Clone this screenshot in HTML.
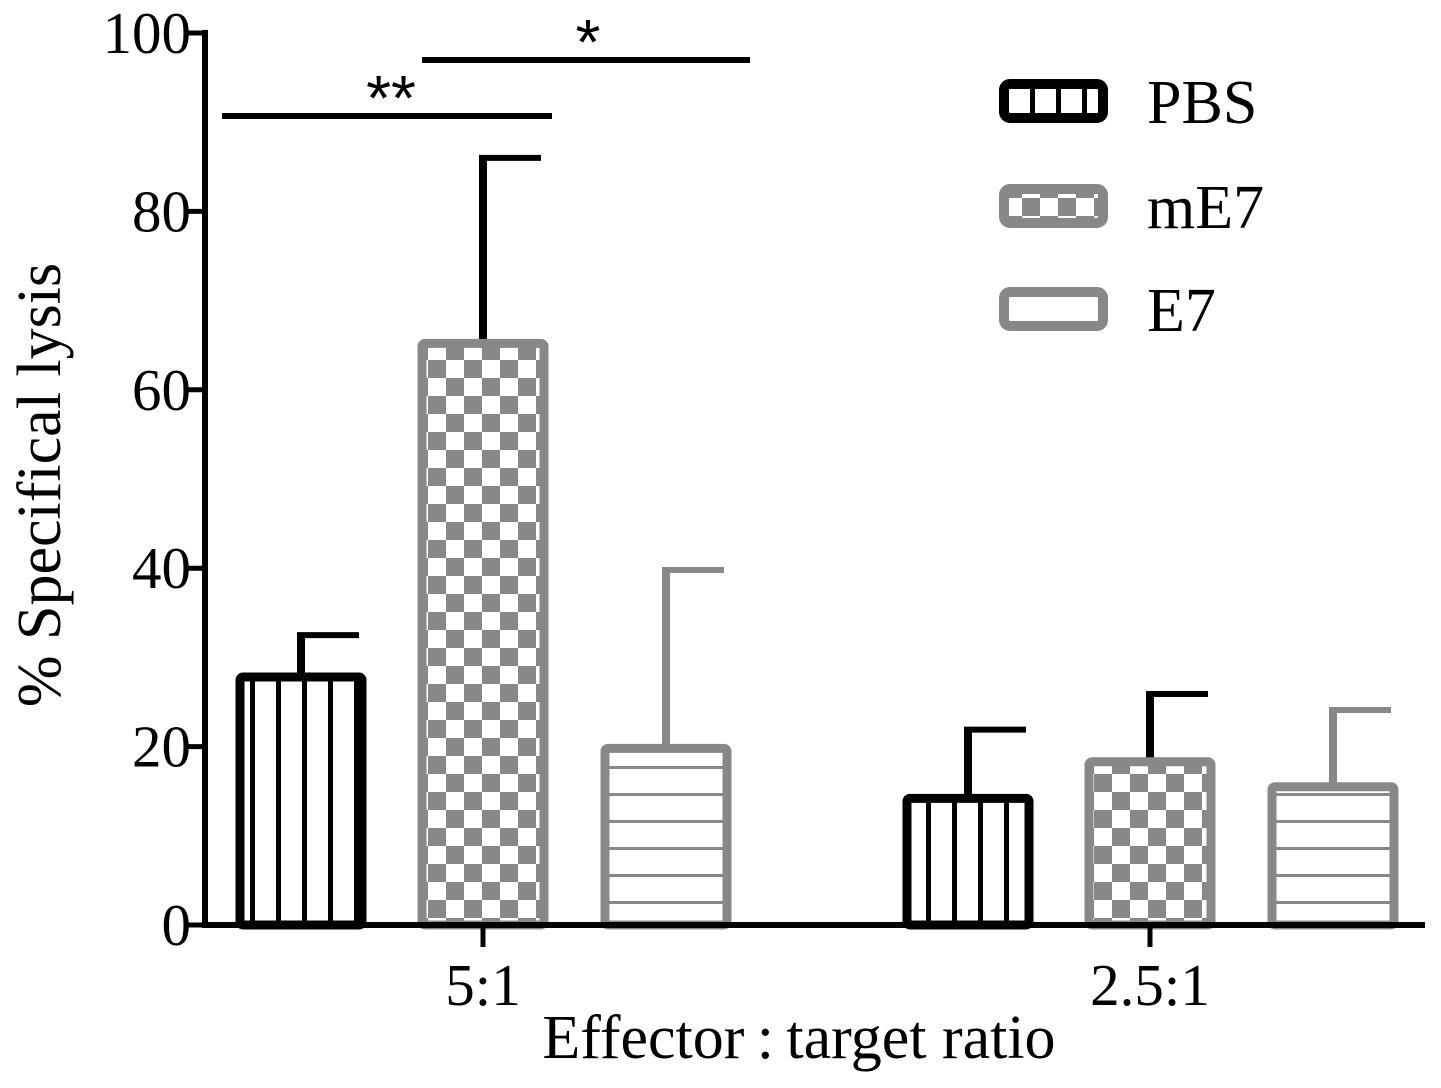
<!DOCTYPE html>
<html><head><meta charset="utf-8"><style>
html,body{margin:0;padding:0;background:#fff}
svg{display:block;font-family:"Liberation Serif",serif}
</style></head><body>
<svg id="chart" width="1441" height="1088" viewBox="0 0 1441 1088">
<defs>
<pattern id="pStripe" width="26" height="20" patternUnits="userSpaceOnUse" x="250"><rect width="26" height="20" fill="#fff"/><rect x="0" width="5" height="20" fill="#000"/></pattern>
<pattern id="pCheck" width="36" height="36" patternUnits="userSpaceOnUse" x="428" y="0"><rect width="36" height="36" fill="#fff"/><rect width="18" height="18" fill="#888"/><rect x="18" y="18" width="18" height="18" fill="#888"/></pattern>
<pattern id="pHoriz" width="20" height="27" patternUnits="userSpaceOnUse" y="10"><rect width="20" height="27" fill="#fff"/><rect y="0" width="20" height="3" fill="#888"/></pattern>
</defs>
<g id="plot"></g>
</svg>
<script>
const groups = ["5:1", "2.5:1"];
const seriesNames = ["PBS", "mE7", "E7"];
const pbsValues = [27.8, 14.2];
const mE7Values = [65.2, 18.3];
const e7Values = [19.8, 15.5];
const pbsErr = [32.5, 21.9];
const mE7Err = [86.0, 25.9];
const e7Err = [39.8, 24.1];
const yTicks = [0, 20, 40, 60, 80, 100];

const NS = "http://www.w3.org/2000/svg";
const g = document.getElementById("plot");
const y0 = 925, y100 = 33, xL = 205, xR = 1425;
const yScale = v => y0 - (v / 100) * (y0 - y100);
const groupCenter = [483, 1150];
const barOffset = [-182, 0, 183];
const barW = 122;
const strokes = ["#000", "#888", "#888"];
const errStrokes = ["#000", "#000", "#888"];
const fills = ["url(#pStripe)", "url(#pCheck)", "url(#pHoriz)"];
const vals = [pbsValues, mE7Values, e7Values];
const errs = [pbsErr, mE7Err, e7Err];

function el(tag, attrs, text) {
  const e = document.createElementNS(NS, tag);
  for (const k in attrs) e.setAttribute(k, attrs[k]);
  if (text !== undefined) e.textContent = text;
  g.appendChild(e);
  return e;
}

for (let s = 0; s < 3; s++) {
  for (let gi = 0; gi < groups.length; gi++) {
    const cx = groupCenter[gi] + barOffset[s];
    const top = yScale(vals[s][gi]);
    const et = yScale(errs[s][gi]);
    const eb = el("line", {x1: cx, x2: cx, y1: top, y2: et, stroke: errStrokes[s], "stroke-width": 8});
    
    
    const ec = el("line", {x1: cx - 4, x2: cx + 58, y1: et, y2: et, stroke: errStrokes[s], "stroke-width": 6});
    
    
    const r = el("rect", {x: cx - barW / 2, y: top, width: barW, height: y0 - top, fill: fills[s], stroke: strokes[s], "stroke-width": 9, rx: 3});
    
    
  }
}

const ya = el("line", {x1: xL, x2: xL, y1: y100 - 3, y2: y0 + 3, stroke: "#000", "stroke-width": 6});


const xa = el("line", {x1: xL - 3, x2: xR, y1: y0, y2: y0, stroke: "#000", "stroke-width": 6});


for (const t of yTicks) {
  const y = yScale(t);
  const tk = el("line", {x1: xL - 20, x2: xL, y1: y, y2: y, stroke: "#000", "stroke-width": 5});
  
  
  const tl = el("text", {x: xL - 14, y: y + 20, "text-anchor": "end", "font-size": 59}, String(t));
  
  
}
for (let gi = 0; gi < groups.length; gi++) {
  const tk = el("line", {x1: groupCenter[gi], x2: groupCenter[gi], y1: y0, y2: y0 + 22, stroke: "#000", "stroke-width": 5});
  
  
  const tl = el("text", {x: groupCenter[gi], y: 1005, "text-anchor": "middle", "font-size": 59}, groups[gi]);
  
  
}
const xt = el("text", {x: 799, y: 1058, "text-anchor": "middle", "font-size": 62}, "Effector\u2009:\u2009target ratio");


const yt = el("text", {x: 0, y: 0, "text-anchor": "middle", "font-size": 62, transform: "translate(60,485) rotate(-90)"}, "% Specifical lysis");



const s1 = el("line", {x1: 222, x2: 552, y1: 116, y2: 116, stroke: "#000", "stroke-width": 6});


const s1t = el("text", {x: 391, y: 120, "text-anchor": "middle", "font-size": 64, "font-family": "Liberation Sans, sans-serif"}, "**");


const s2 = el("line", {x1: 422, x2: 750, y1: 60, y2: 60, stroke: "#000", "stroke-width": 6});


const s2t = el("text", {x: 588, y: 64, "text-anchor": "middle", "font-size": 64, "font-family": "Liberation Sans, sans-serif"}, "*");



const legY = [101, 206, 309];
const legFills = ["url(#pStripe)", "url(#pCheck)", "#fff"];
for (let s = 0; s < 3; s++) {
  const r = el("rect", {x: 1004, y: legY[s] - 17, width: 99, height: 34, rx: 6, fill: legFills[s], stroke: strokes[s], "stroke-width": 10});
  
  
  const t = el("text", {x: 1147, y: legY[s] + 22, "font-size": 62}, seriesNames[s]);
  
  
}
</script>
</body></html>
